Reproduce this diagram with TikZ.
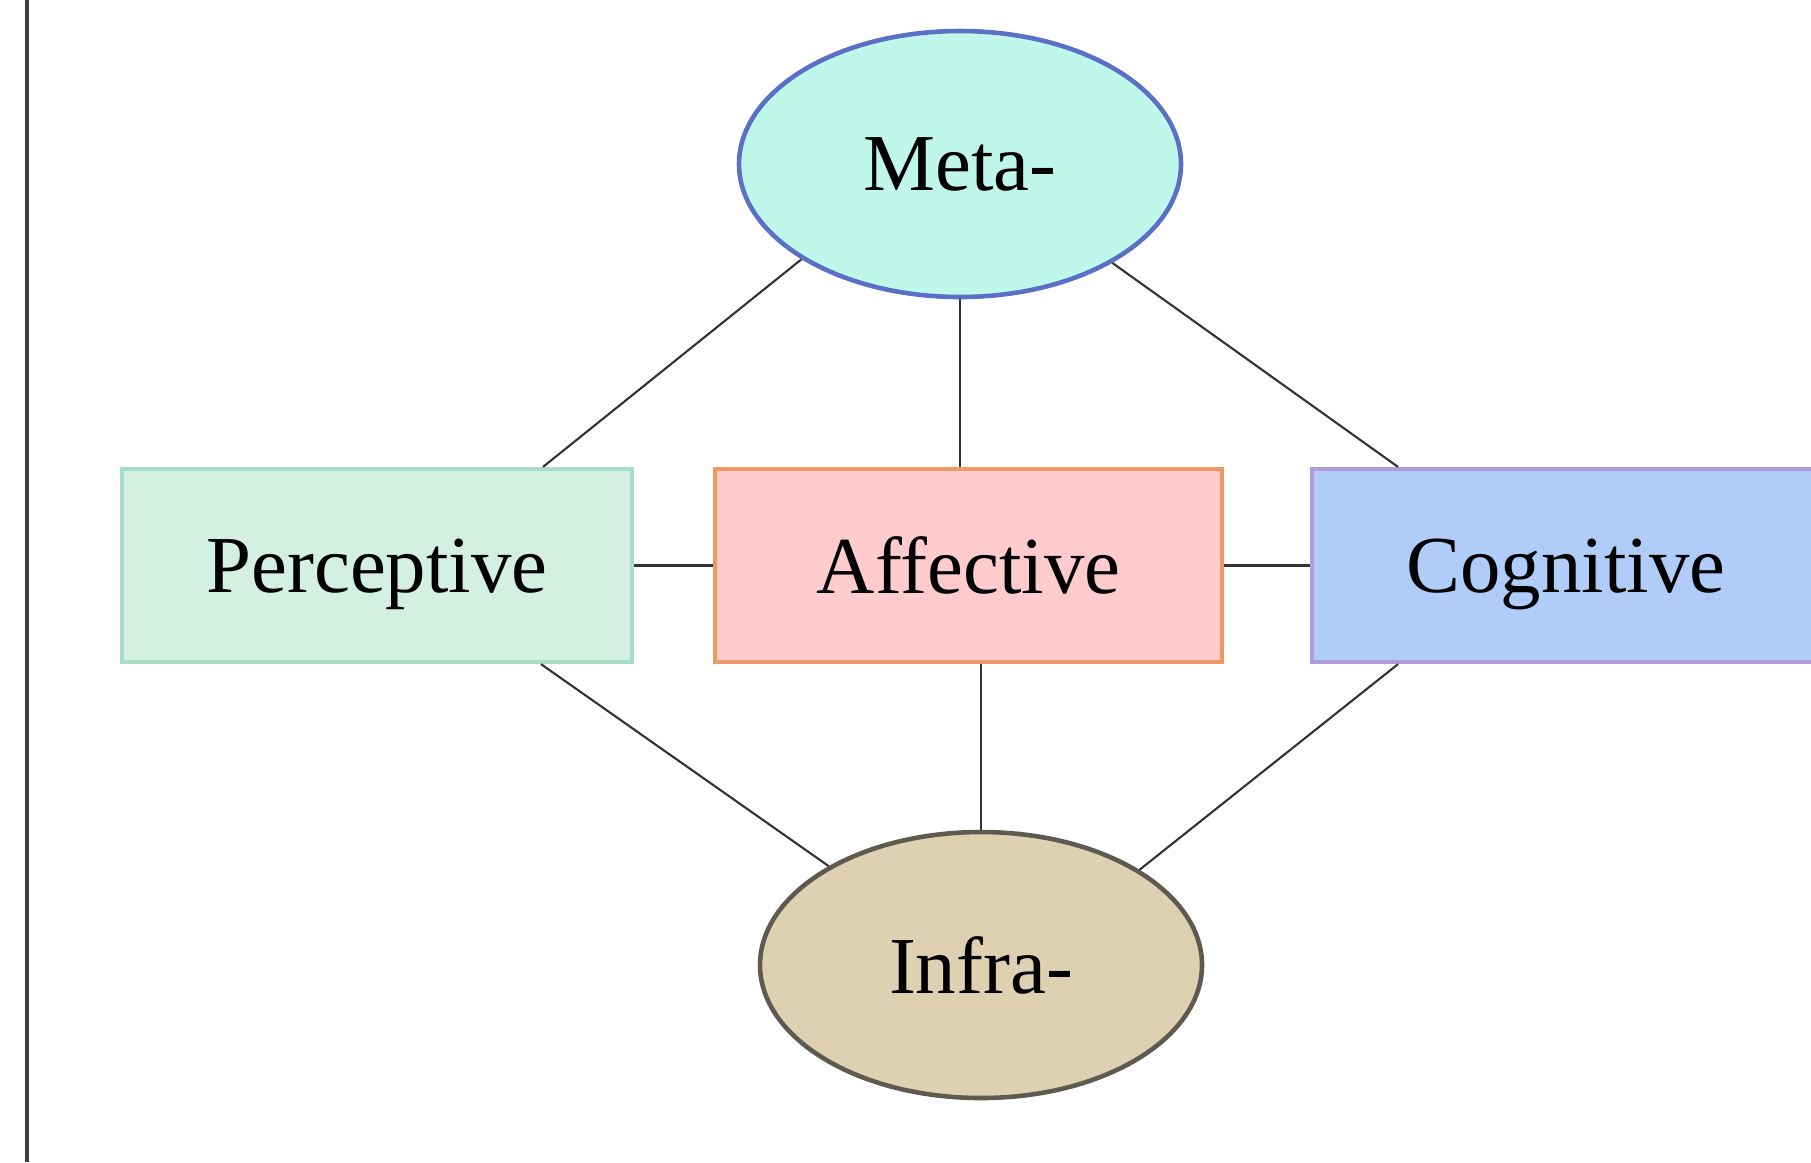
\documentclass[tikz,border=0pt]{standalone}
\usepackage{xcolor}
\usepackage{fontspec}
\setmainfont{Liberation Serif}
\usepackage{tikz}
\usetikzlibrary{positioning,shapes.geometric,calc}

\definecolor{metafill}{HTML}{C0F7EB}
\definecolor{metaline}{HTML}{5A6FC6}
\definecolor{infrafill}{HTML}{DED1B2}
\definecolor{infraline}{HTML}{5E5A50}
\definecolor{percfill}{HTML}{D3F0E2}
\definecolor{percline}{HTML}{A8DEC8}
\definecolor{afffill}{HTML}{FFCBCD}
\definecolor{affline}{HTML}{EC9A62}
\definecolor{cogfill}{HTML}{B0CCF8}
\definecolor{cogline}{HTML}{B39AD8}

\begin{document}
\begin{tikzpicture}[
  every node/.style={font=\fontsize{23}{27}\selectfont},
  level/.style={draw, ellipse, line width=1.3pt, minimum width=4.42cm, minimum height=2.66cm, inner sep=0pt},
  facet/.style={draw, line width=1.2pt, minimum width=5.08cm, minimum height=1.93cm, inner sep=0pt, text depth=0pt},
  link/.style={black!80, line width=0.6pt}
]
\useasboundingbox (0,0) rectangle (18.11,-11.62);
\clip (0,0) rectangle (18.11,-11.62);
\fill[white] (0,0) rectangle (18.11,-11.62);
\draw[black!75, line width=1.1pt] (0.27,0) -- (0.27,-11.62);

\node[level, fill=metafill, draw=metaline] (meta) at (9.60,-1.64) {Meta-};
\node[level, fill=infrafill, draw=infraline] (infra) at (9.81,-9.65) {Infra-};

\node[facet, fill=percfill, draw=percline, minimum width=5.10cm] (perc) at (3.77,-5.655) {Perceptive};
\node[facet, fill=afffill, draw=affline, minimum width=5.07cm] (aff) at (9.685,-5.655) {Affective};
\node[facet, fill=cogfill, draw=cogline] (cog) at (15.66,-5.655) {Cognitive};

\draw[link] ([xshift=1.66cm]perc.north) -- (meta.211.8);
\draw[link] (meta.south) -- (meta.south |- aff.north);
\draw[link] ([xshift=-1.68cm]cog.north) -- (meta.327.6);

\draw[link] (perc.east) -- (aff.west);
\draw[link] (aff.east) -- (cog.west);

\draw[link] ([xshift=1.64cm]perc.south) -- (infra.147.4);
\draw[link] (infra.north |- aff.south) -- (infra.north);
\draw[link] ([xshift=-1.68cm]cog.south) -- (infra.31.4);
\end{tikzpicture}
\end{document}
